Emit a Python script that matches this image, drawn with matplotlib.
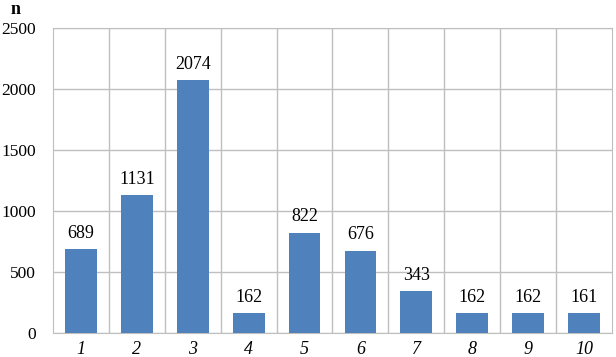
import matplotlib.pyplot as plt
import numpy as np

categories = ['1', '2', '3', '4', '5', '6', '7', '8', '9', '10']
values = [689, 1131, 2074, 162, 822, 676, 343, 162, 162, 161]

plt.rcParams['font.family'] = 'Liberation Serif'

fig = plt.figure(figsize=(6.16, 3.57), dpi=100)
ax = fig.add_axes([0.086, 0.067, 0.9075, 0.855])

x = np.arange(len(categories))
ax.bar(x, values, width=0.57, color='#4F81BD', zorder=3)

# value labels over bars
for xi, v in zip(x, values):
    ax.text(xi, v + 60, str(v), ha='center', va='bottom', fontsize=13)

ax.set_xlim(-0.5, len(categories) - 0.5)
ax.set_ylim(0, 2500)
ax.set_yticks(range(0, 2501, 500))
ax.set_xticks(x)
ax.set_xticklabels(categories, fontstyle='italic', fontsize=13)
ax.tick_params(axis='y', labelsize=12.5, length=0, pad=12)
ax.tick_params(axis='x', length=0, pad=6)

# vertical lines between categories + horizontal grid
for b in np.arange(0.5, len(categories) - 0.5, 1):
    ax.axvline(b, color='#BFBFBF', lw=1, zorder=1)
ax.yaxis.grid(True, color='#BFBFBF', lw=1, zorder=1)

for s in ['top', 'right', 'left', 'bottom']:
    ax.spines[s].set_color('#BFBFBF')

fig.text(0.017, 0.998, 'n', fontweight='bold', fontsize=13, va='top')

plt.savefig('out.png', dpi=100)
